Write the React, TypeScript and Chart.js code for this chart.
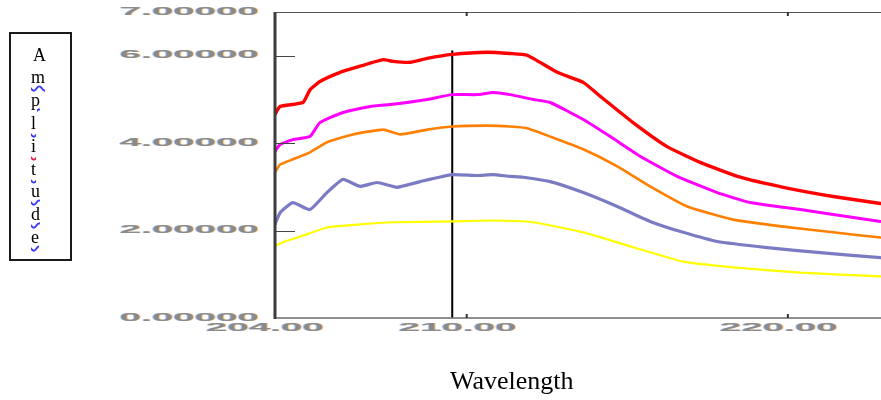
import React, { useEffect, useRef } from "react";
import { Chart, registerables } from "chart.js";

Chart.register(...registerables);

// ---- data ----
const redWave = [204.03, 204.19, 204.9, 205.12, 205.43, 206.06, 206.68, 207.4, 207.71, 208.24, 208.77, 209.55, 210.64, 211.35, 211.88, 212.82, 213.63, 214.16, 215.18, 216.24, 217.27, 218.52, 219.86, 221.41, 222.88];
const redAmp = [4.66, 4.84, 4.93, 5.22, 5.41, 5.62, 5.76, 5.91, 5.87, 5.85, 5.94, 6.03, 6.08, 6.05, 6.01, 5.62, 5.39, 5.07, 4.47, 3.92, 3.56, 3.22, 2.99, 2.78, 2.62];

const magentaWave = [204.03, 204.19, 204.59, 205.12, 205.43, 206.15, 206.99, 207.71, 208.77, 209.55, 210.32, 210.82, 211.35, 212.07, 212.6, 213.63, 214.47, 215.4, 216.55, 217.8, 218.83, 220.39, 221.41, 222.88];
const magentaAmp = [3.81, 3.97, 4.08, 4.15, 4.47, 4.7, 4.84, 4.89, 5.0, 5.11, 5.11, 5.16, 5.11, 5.0, 4.93, 4.54, 4.15, 3.7, 3.24, 2.87, 2.64, 2.48, 2.37, 2.21];

const orangeWave = [204.03, 204.19, 204.59, 205.12, 205.65, 206.46, 207.4, 207.93, 208.77, 209.55, 210.64, 211.35, 211.88, 212.6, 213.63, 214.69, 215.71, 216.87, 218.3, 219.86, 221.41, 222.88];
const orangeAmp = [3.33, 3.51, 3.63, 3.79, 4.02, 4.2, 4.31, 4.2, 4.31, 4.38, 4.4, 4.38, 4.34, 4.15, 3.86, 3.47, 3.01, 2.55, 2.25, 2.09, 1.96, 1.84];

const blueWave = [204.03, 204.19, 204.59, 205.12, 205.65, 206.15, 206.68, 207.21, 207.83, 208.55, 209.55, 210.32, 210.82, 211.35, 211.76, 212.6, 213.63, 214.69, 215.71, 216.74, 217.8, 219.36, 220.92, 222.88];
const blueAmp = [2.14, 2.41, 2.64, 2.48, 2.87, 3.17, 3.01, 3.1, 2.99, 3.12, 3.28, 3.26, 3.28, 3.24, 3.22, 3.12, 2.87, 2.55, 2.21, 1.96, 1.75, 1.61, 1.5, 1.38];

const yellowWave = [204.0, 204.34, 204.81, 205.65, 206.68, 207.71, 209.55, 210.82, 212.07, 213.63, 215.18, 216.74, 218.3, 220.39, 222.88];
const yellowAmp = [1.64, 1.75, 1.86, 2.07, 2.14, 2.19, 2.21, 2.23, 2.19, 1.96, 1.62, 1.29, 1.16, 1.04, 0.95];

const markerWave = [209.55, 209.55];
const markerAmp = [0, 6.1];

const xTickLabels = [204, 210, 220];
const xTickMarks = [210, 220];
const yTickLabels = [0, 2, 4, 6, 7];
const yTickMarks = [2, 4, 6];

const yLabelLetters = ["A", "m", "p", "l", "i", "t", "u", "d", "e"];
const squiggleColors = ["", "#3a3aff", "#3a3aff", "#3a3aff", "#e0204a", "#3a3aff", "#3a3aff", "#3a3aff", "#3a3aff"];

const pts = (xs: number[], ys: number[]) => xs.map((x, i) => ({ x, y: ys[i] }));

function drawStretched(ctx: CanvasRenderingContext2D, text: string, x: number, y: number, align: CanvasTextAlign, sx: number) {
  const layers: [string, number][] = [
    ["rgba(90,150,255,0.55)", -1.2],
    ["rgba(255,170,60,0.55)", 1.2],
    ["#8a8a8a", 0],
  ];
  for (const [col, dx] of layers) {
    ctx.save();
    ctx.translate(x + dx, y);
    ctx.scale(sx, 1);
    ctx.font = "bold 10px 'Liberation Sans', Arial, sans-serif";
    ctx.textAlign = align;
    ctx.textBaseline = "middle";
    ctx.fillStyle = col;
    ctx.fillText(text, 0, 0);
    ctx.restore();
  }
}

const axesPlugin = {
  id: "customAxes",
  afterDatasetsDraw(chart: any) {
    const ctx: CanvasRenderingContext2D = chart.ctx;
    const { left, right, top, bottom } = chart.chartArea;
    const xs = chart.scales.x;
    const ys = chart.scales.y;
    ctx.save();
    // top border
    ctx.strokeStyle = "#555";
    ctx.lineWidth = 1;
    ctx.beginPath();
    ctx.moveTo(left, top + 0.5);
    ctx.lineTo(right, top + 0.5);
    ctx.stroke();
    // bottom axis
    ctx.strokeStyle = "#6a6a6a";
    ctx.lineWidth = 1.5;
    ctx.beginPath();
    ctx.moveTo(left, bottom);
    ctx.lineTo(right, bottom);
    ctx.stroke();
    // y inner ticks
    ctx.strokeStyle = "#444";
    ctx.lineWidth = 1;
    for (const v of yTickMarks) {
      const py = Math.round(ys.getPixelForValue(v)) + 0.5;
      ctx.beginPath();
      ctx.moveTo(left, py);
      ctx.lineTo(left + 21, py);
      ctx.stroke();
    }
    // x ticks (bottom up, top down)
    ctx.strokeStyle = "#333";
    ctx.lineWidth = 2;
    for (const v of xTickMarks) {
      const px = xs.getPixelForValue(v);
      ctx.beginPath();
      ctx.moveTo(px, bottom);
      ctx.lineTo(px, bottom - 4);
      ctx.moveTo(px, top);
      ctx.lineTo(px, top + 4);
      ctx.stroke();
    }
    // left axis (thick)
    ctx.strokeStyle = "#3c3c3c";
    ctx.lineWidth = 3;
    ctx.beginPath();
    ctx.moveTo(left + 1, top);
    ctx.lineTo(left + 1, bottom + 1);
    ctx.stroke();
    // labels
    for (const v of yTickLabels) {
      drawStretched(ctx, v.toFixed(5), left - 15, ys.getPixelForValue(v), "right", 3.85);
    }
    for (const v of xTickLabels) {
      drawStretched(ctx, v.toFixed(2), xs.getPixelForValue(v) - 9, bottom + 10, "center", 3.85);
    }
    ctx.restore();
  },
};

export default function App() {
  const ref = useRef<HTMLCanvasElement | null>(null);

  useEffect(() => {
    document.body.style.margin = "0";
    if (!ref.current) return;
    const chart = new Chart(ref.current, {
      type: "line",
      data: {
        datasets: [
          { data: pts(yellowWave, yellowAmp), borderColor: "#ffff00", borderWidth: 2.2 },
          { data: pts(blueWave, blueAmp), borderColor: "#7b7bc4", borderWidth: 3.2 },
          { data: pts(orangeWave, orangeAmp), borderColor: "#ff8000", borderWidth: 2.6 },
          { data: pts(magentaWave, magentaAmp), borderColor: "#ff00ff", borderWidth: 3 },
          { data: pts(redWave, redAmp), borderColor: "#ff0000", borderWidth: 3.4 },
          { data: pts(markerWave, markerAmp), borderColor: "#000000", borderWidth: 2 },
        ] as any,
      },
      options: {
        animation: false,
        responsive: false,
        events: [],
        layout: { padding: { left: 274, top: 12, right: 0, bottom: 82 } },
        elements: { point: { radius: 0 }, line: { tension: 0.15, borderCapStyle: "round", borderJoinStyle: "round" } },
        plugins: { legend: { display: false }, tooltip: { enabled: false }, title: { display: false } },
        scales: {
          x: { type: "linear", min: 204, max: 222.9, display: false },
          y: { type: "linear", min: 0, max: 7, display: false },
        },
      },
      plugins: [axesPlugin],
    });
    return () => chart.destroy();
  }, []);

  return (
    <div style={{ position: "relative", width: 881, height: 400, background: "#fff", overflow: "hidden" }}>
      <canvas ref={ref} width={881} height={400} style={{ position: "absolute", left: 0, top: 0 }} />
      <div
        style={{
          position: "absolute",
          left: 9,
          top: 32,
          width: 59,
          height: 225,
          border: "2px solid #1a1a1a",
          fontFamily: "'Liberation Serif', 'Times New Roman', serif",
          fontSize: 18,
          color: "#000",
        }}
      >
        {yLabelLetters.map((ch, i) => (
          <div
            key={i}
            style={{
              position: "absolute",
              left: i === 0 ? 22 : 20,
              top: 9.6 + i * 22.8,
              lineHeight: "22.6px",
              textDecorationLine: squiggleColors[i] ? "underline" : "none",
              textDecorationStyle: "wavy",
              textDecorationColor: squiggleColors[i] || "transparent",
              textDecorationThickness: "1.5px",
              textUnderlineOffset: "2px",
            }}
          >
            {ch}
          </div>
        ))}
      </div>
      <div
        style={{
          position: "absolute",
          left: 450,
          top: 366,
          fontFamily: "'Liberation Serif', 'Times New Roman', serif",
          fontSize: 26,
          lineHeight: "30px",
          color: "#000",
          whiteSpace: "nowrap",
        }}
      >
        Wavelength
      </div>
    </div>
  );
}
